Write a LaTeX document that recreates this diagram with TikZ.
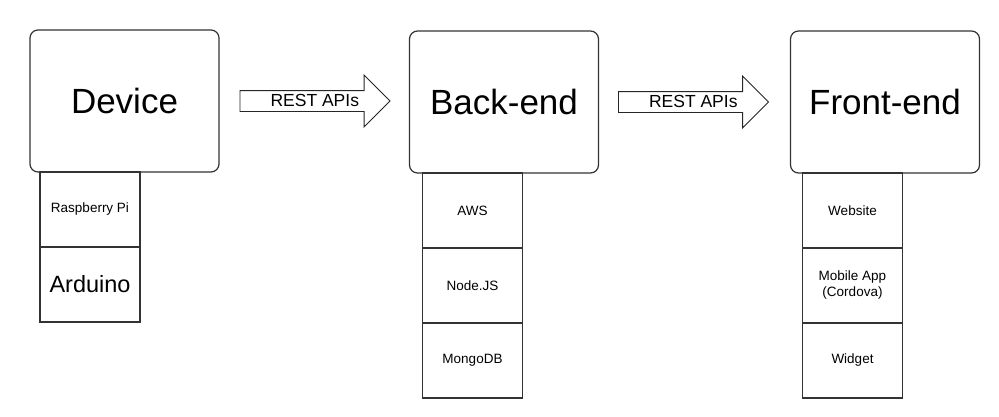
\documentclass[tikz,border=0pt]{standalone}
\usepackage{fontspec}
\setmainfont{Liberation Sans}
\usetikzlibrary{positioning,shapes.arrows}

\begin{document}
\begin{tikzpicture}[x=1pt, y=-1pt,
    tier/.style={rectangle, rounded corners=8pt, draw=black!80, line width=1.2pt,
      outer sep=0pt, minimum width=189pt, minimum height=142pt,
      font=\fontsize{35}{40}\selectfont},
    part/.style={rectangle, draw=black!80, line width=1.2pt, outer sep=0pt,
      minimum width=100pt, minimum height=75pt, align=center,
      font=\fontsize{13.5}{16}\selectfont},
    api/.style={single arrow, draw=black!85, line width=0.9pt, outer sep=0pt,
      minimum height=150pt, single arrow head extend=15.5pt,
      single arrow tip angle=90, inner ysep=0pt, text height=15.5pt, text depth=4.5pt,
      font=\fontsize{17.5}{20}\selectfont}
    ]
    \useasboundingbox (0,0) rectangle (999,417);

    \node[tier] (dev) at (124.5,101) {Device};
    \node[tier] (back) at (504,102) {Back-end};
    \node[tier] (front) at (885,102) {Front-end};

    \node[api, right=21pt of dev] (api1) {\hspace*{10pt}REST APIs};
    \node[api, right=20pt of back] (api2) {\hspace*{10pt}REST APIs};

    \node[part, anchor=north west] (rpi) at ([xshift=10pt]dev.south west) {Raspberry Pi};
    \node[part, below=0pt of rpi, font=\fontsize{23.5}{28}\selectfont] (ard) {Arduino};

    \node[part, anchor=north west] (aws) at ([xshift=13pt]back.south west) {AWS};
    \node[part, below=0pt of aws] (node) {Node.JS};
    \node[part, below=0pt of node] (mongo) {MongoDB};

    \node[part, anchor=north west] (web) at ([xshift=12pt]front.south west) {Website};
    \node[part, below=0pt of web] (app) {Mobile App\\(Cordova)};
    \node[part, below=0pt of app] (widget) {Widget};
  \end{tikzpicture}
\end{document}
